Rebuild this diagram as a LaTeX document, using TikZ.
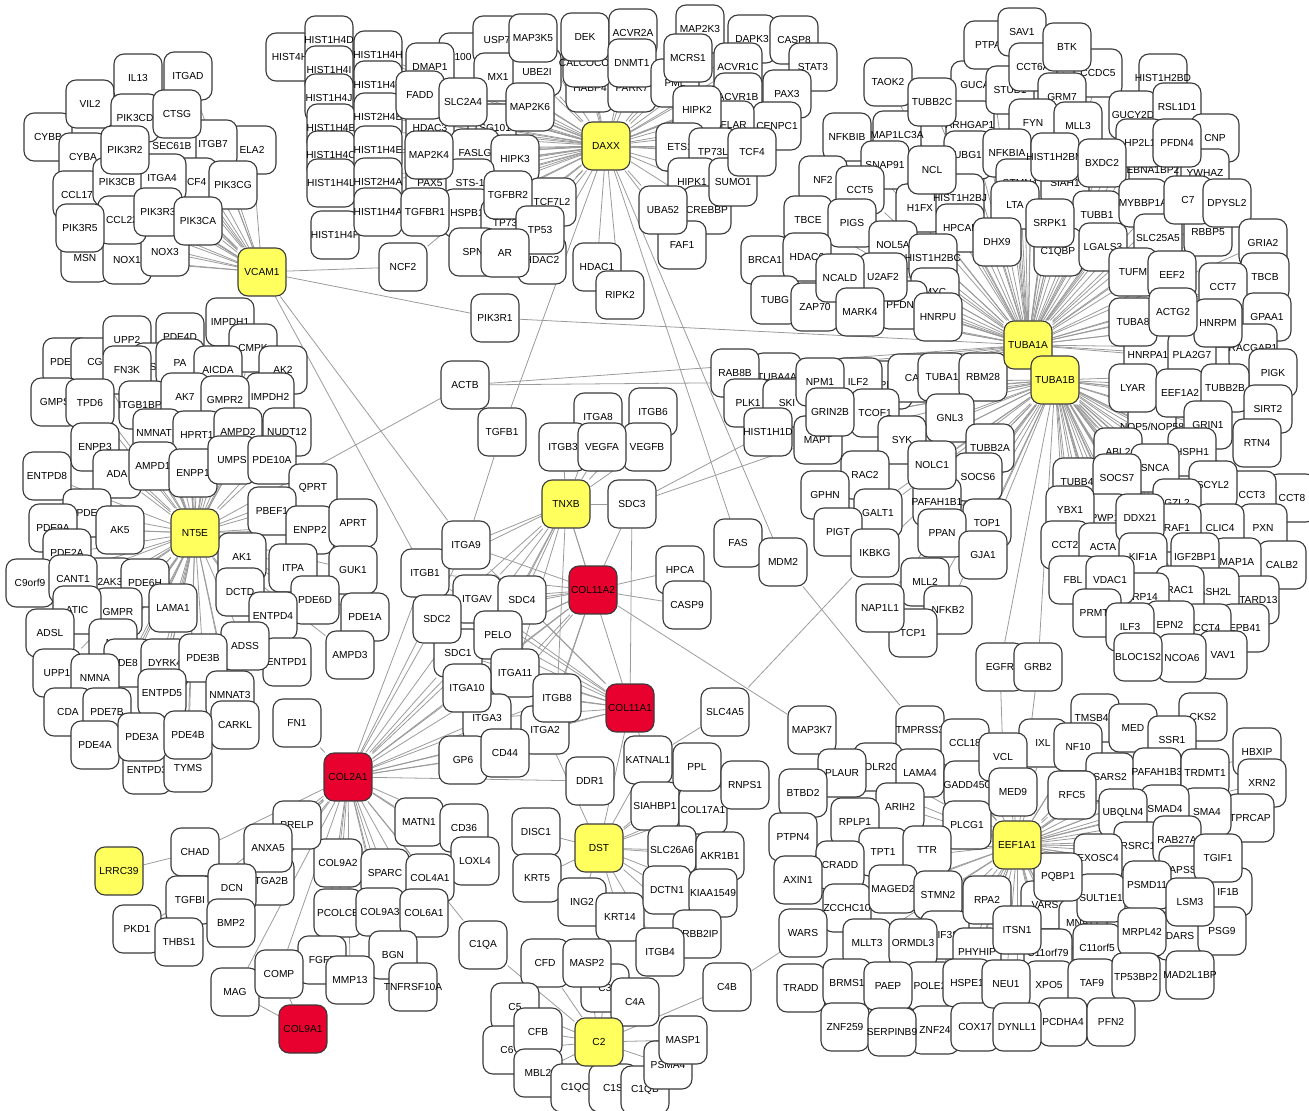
\documentclass[tikz,border=0pt]{standalone}
\usepackage{fontspec}
\setmainfont{Liberation Sans}
\usepackage{tikz}
\definecolor{hubyellow}{HTML}{FFFF5E}
\definecolor{seedred}{HTML}{E8002E}
\definecolor{rim}{HTML}{3A3A3A}
\definecolor{wire}{HTML}{9A9A9A}
\pgfdeclarelayer{wires}
\pgfsetlayers{wires,main}
\newcommand{\genefont}{\fontsize{5.8}{7}\selectfont}

\begin{document}
\begin{tikzpicture}[x=0.02cm, y=-0.02cm]
  \tikzstyle{gene} = [rectangle, draw=rim, fill=white, rounded corners=0.2cm, minimum width=0.96cm, minimum height=0.96cm, inner sep=0pt, line width=0.65pt, font=\genefont]
  \tikzstyle{hub} = [gene, fill=hubyellow]
  \tikzstyle{seed} = [gene, fill=seedred]
  \tikzstyle{link} = [draw=wire, line width=0.45pt]

  \useasboundingbox (0,0) rectangle (1309,1111);

  % VCAM1 group
  \foreach \n/\x/\y in {CYBB/48/137, VIL2/90/104, IL13/138/78, ITGAD/188/76, ELA2/252/150, ITGB7/213/144, SEC61B/172/146, PIK3CD/135/118, CTSG/177/114, CYBA/83/157, CCL17/77/195, NCF4/193/182, ITGA4/162/178, PIK3CB/117/182, PIK3R2/125/150, PIK3CG/233/185, MSN/85/258, NOX1/127/260, NOX3/165/252, CCL22/122/220, PIK3R3/158/212, PIK3CA/198/221, PIK3R5/80/228}
    \node[gene] (\n) at (\x,\y) {\makebox[0pt]{\n}};

  % histones
  \foreach \n/\x/\y in {HIST4H/290/57, HIST1H4D/329/40, HIST1H4I/329/70, HIST1H4J/329/98, HIST1H4B/331/128, HIST1H4C/331/155, HIST1H4L/331/183, HIST1H4F/335/235, HIST1H4H/378/55, HIST1H4K/378/85, HIST2H4B/378/117, HIST1H4E/378/150, HIST2H4A/378/182, HIST1H4A/378/212}
    \node[gene] (\n) at (\x,\y) {\makebox[0pt]{\n}};

  % DAXX group
  \node[gene] (X100) at (463,57) {\makebox[0pt]{100}};
  \foreach \n/\x/\y in {USP7/497/40, DMAP1/430/67, MX1/498/77, UBE2I/537/72, MAP3K5/533/38, HABP4/590/88, PARK7/632/88, CALCOCO2/587/63, DEK/585/37, ACVR2A/633/33, DNMT1/632/63, HDAC3/430/128, FADD/420/95, TSG101/492/128, SLC2A4/463/102, MAP2K6/530/107, PAX5/430/183, FASLG/475/153, HIPK3/515/159}
    \node[gene] (\n) at (\x,\y) {\makebox[0pt]{\n}};
  \node[gene] (STSone) at (470,183) {\makebox[0pt]{STS-1}};
  \foreach \n/\x/\y in {MAP2K4/429/155, TCF7L2/552/202, HSPB1/467/213, TGFBR1/425/212, TP73/505/223, TGFBR2/508/195, SPN/473/252, HDAC2/542/260, TP53/540/230, AR/505/253, NCF2/403/267, HDAC1/597/267, RIPK2/620/295, PIK3R1/495/318}
    \node[gene] (\n) at (\x,\y) {\makebox[0pt]{\n}};
  \foreach \n/\x/\y in {MAP2K3/700/29, DAPK3/752/39, CASP8/794/40, STAT3/813/67, ACVR1C/738/67, PML/675/83, MCRS1/688/58, ACVR1B/738/97, PAX3/787/94, CENPC1/777/126, CFLAR/730/125, HIPK2/697/110, ETS1/680/147, TP73L/713/152, HIPK1/692/182, CREBBP/707/210, SUMO1/733/182, TCF4/752/152, FAF1/682/245, UBA52/663/210}
    \node[gene] (\n) at (\x,\y) {\makebox[0pt]{\n}};

  % tubulin group, upper part
  \foreach \n/\x/\y in {TAOK2/888/82, GUCA/975/85, ARHGAP1/970/125, MAP1LC3A/897/135, TUBB2C/932/102, NFKBIB/847/137, UBG1/968/155, SNAP91/885/165, NF2/823/180, TBCE/808/220, CCT5/860/190, PIGS/852/223, H1FX/920/208, HIST1H2BJ/960/198, HPCAL/960/228, NCL/932/170, BRCA1/765/260, HDAC6/807/257, NOL5A/893/245, HIST1H2BC/933/258, TUBG/775/300, ZAP70/815/307, MYC/935/292, PFDN5/903/305, U2AF2/883/277, NCALD/840/278, MARK4/860/312, HNRPU/938/317}
    \node[gene] (\n) at (\x,\y) {\makebox[0pt]{\n}};
  \foreach \n/\x/\y in {PTPA/988/45, SAV1/1022/32, CCDC5/1098/73, STUB1/1010/90, CCT6A/1033/67, BTK/1067/47, GRM7/1062/97, HIST1H2BD/1163/78, GUCY2D/1133/115, RSL1D1/1177/107, FYN/1033/123, MLL3/1078/126, CNP/1215/138, YWHAZ/1205/173, EBNA1BP2/1153/170, HP2L1/1140/143, PFDN4/1177/143, NFKBIA/1007/153, STMN4/1020/183, SIAH1/1065/183, HIST1H2BM/1055/157, BXDC2/1102/163, LTA/1015/205, TUBB1/1097/215, DHX9/997/242, C1QBP/1058/252, SRPK1/1050/223, LGALS3/1103/247, MYBBP1A/1143/203, SLC25A5/1158/238, RBBP5/1208/232, C7/1188/200, DPYSL2/1227/203, GRIA2/1263/243, TBCB/1265/277, CCT7/1223/287, TUFM/1133/272, EEF2/1172/275, GPAA1/1267/317, RACGAP1/1253/348, HNRPA1/1148/355, PLA2G7/1192/355, TUBA8/1133/322, HNRPM/1218/323, ACTG2/1173/312}
    \node[gene] (\n) at (\x,\y) {\makebox[0pt]{\n}};

  % tubulin group, right part
  \node[gene] (NOPfive) at (1152,427) {\makebox[0pt]{NOP5/NOP58}};
  \foreach \n/\x/\y in {PIGK/1273/373, LYAR/1133/388, EEF1A2/1180/393, TUBB2B/1225/388, SIRT2/1268/409, GRIN1/1208/425, RTN4/1257/443, HSPH1/1192/452, ABL2/1118/452, SNCA/1155/468, CCT8/1292/498, CCT3/1252/495, SCYL2/1213/485, GZL2/1177/503, PXN/1263/528, CLIC4/1220/528, RAF1/1177/528, TUBB4/1077/482, SOCS7/1117/478, PWP1/1105/518, YBX1/1070/510, CCT2/1065/545, ACTA/1103/547, DDX21/1140/518, CALB2/1282/565, MAP1A/1237/562, IGF2BP1/1195/557, KIF1A/1143/557, STARD13/1255/600, ASH2L/1215/592, RAC1/1180/590, RP14/1145/597, FBL/1073/580, VDAC1/1110/580, PRMT5/1097/613, EPB41/1245/628, CCT4/1207/628, EPN2/1170/625, ILF3/1130/627, VAV1/1223/655, NCOA6/1182/658, BLOC1S2/1138/657, EGFR/1000/667, GRB2/1038/667}
    \node[gene] (\n) at (\x,\y) {\makebox[0pt]{\n}};

  % tubulin group, middle part
  \foreach \n/\x/\y in {TUBA4A/777/377, RAB8B/735/373, PLK1/748/403, SKI/787/403, HIST1H1D/768/432, PRI/888/385, CA/912/378, ILF2/858/382, NPM1/820/382, TUBA1/942/377, RBM28/983/377, TCOF1/875/413, MAPT/818/440, GRIN2B/830/412, GNL3/950/418, SYK/902/440, TUBB2A/990/448, SOCS6/978/477, RAC2/865/475, GALT1/878/513, GPHN/825/495, PIGT/838/532, IKBKG/875/553, PAFAH1B1/937/502, NOLC1/932/465, TOP1/987/523, PPAN/942/533, GJA1/983/555, MLL2/925/582, NFKB2/948/610, TCP1/913/633, NAP1L1/880/608}
    \node[gene] (\n) at (\x,\y) {\makebox[0pt]{\n}};

  % NT5E group
  \foreach \n/\x/\y in {PDE1C/67/362, CG/95/362, UPP2/127/340, PDE4D/180/337, IMPDH1/230/322, CMPK/253/348, SG/157/367, PA/180/363, FN3K/127/370, AICDA/218/370, AK2/283/370, GMPS/55/402, TPD6/90/403, ITGB1BP3/143/405, AK7/185/397, IMPDH2/270/397, GMPR2/225/400, ENPP3/95/447, NMNAT1/157/433, HPRT1/197/435, AMPD2/238/432, NUDT12/287/432, ENTPD8/47/476, ADA/117/474, AMPD1/153/466, ENPP1/193/473, UMPS/232/460, PDE10A/272/460, QPRT/313/488, PDE/87/513, PDE9A/53/528, AK5/120/530, PBEF1/272/511, ENPP2/310/530, APRT/353/523, PDE2A/67/553, AK1/242/557, ITPA/293/568, GUK1/353/570, C9orf9/30/583}
    \node[gene] (\n) at (\x,\y) {\makebox[0pt]{\n}};
  \node[gene] (AKthree) at (110,582) {\makebox[0pt]{2AK3}};
  \foreach \n/\x/\y in {CANT1/73/579, PDE6H/145/583, DCTD/240/592, PDE6D/315/600, PDE1A/365/617, GMPR/118/612, ATIC/77/610, LAMA1/173/608, ENTPD4/273/616, ADSL/50/633, NP/113/643, ENTPD1/287/662, ADSS/245/646, AMPD3/350/655, DE8/128/663, DYRK4/165/663, PDE3B/203/658, UPP1/57/673, NMNA/95/678, ENTPD5/162/693, NMNAT3/230/695, CDA/68/712, PDE7B/107/712, CARKL/235/725, FN1/297/723, PDE4A/95/745, ENTPD3/147/770, TYMS/188/768, PDE3A/142/737, PDE4B/188/735}
    \node[gene] (\n) at (\x,\y) {\makebox[0pt]{\n}};

  % collagen and integrin group
  \foreach \n/\x/\y in {ACTB/465/385, TGFB1/502/432, ITGA8/598/417, ITGB6/653/412, ITGB3/563/447, VEGFB/647/447, VEGFA/602/447, SDC3/632/504, ITGB1/425/573, ITGA9/466/545, SDC1/458/653, ITGAV/477/599, SDC4/522/600, SDC2/437/619, PELO/498/635, ITGA11/515/673, ITGA3/487/718, ITGA10/467/688, ITGA2/545/730, ITGB8/557/698, GP6/463/760, CD44/505/753, DDR1/590/781, KATNAL1/648/760, SIAHBP1/655/806, COL17A1/703/810, PPL/697/767, RNPS1/745/785, MATN1/419/822, CD36/464/828, LOXL4/475/861, DISC1/536/832, KRT5/537/878, ING2/582/902, KRT14/620/917, SLC26A6/672/850, AKR1B1/720/856, DCTN1/667/890, KIAA1549/713/893, ERBB2IP/697/934, ITGB4/660/952, COL9A2/338/863, SPARC/385/873, COL4A1/430/878, PCOLCE/338/913, COL9A3/380/912, COL6A1/424/913, C1QA/483/945, FGF7/322/960, BGN/393/955, MMP13/350/980, TNFRSF10A/413/987, PRELP/297/825, CHAD/195/852, ITGA2B/270/881, ANXA5/268/848, TGFBI/190/900, PKD1/137/929, THBS1/179/942, DCN/232/888, BMP2/231/923, MAG/235/992, COMP/279/974, HPCA/680/570, CASP9/687/605, FAS/738/543, MDM2/783/562, SLC4A5/725/712, MAP3K7/812/730, TMPRSS3/920/730}
    \node[gene] (\n) at (\x,\y) {\makebox[0pt]{\n}};

  % complement group
  \foreach \n/\x/\y in {CFD/545/963, C3/605/988, MASP2/587/963, C5/515/1007, C6/507/1050, CFB/538/1032, MBL2/538/1073, C1QC/575/1088, C1S/613/1088, C1QB/645/1090, C4A/635/1002, PSMA4/668/1065, MASP1/683/1040, C4B/727/987}
    \node[gene] (\n) at (\x,\y) {\makebox[0pt]{\n}};

  % EEF1A1 group
  \foreach \n/\x/\y in {CCL18/965/743, POLR2C/878/767, PLAUR/842/773, LAMA4/920/773, GADD45G/968/785, BTBD2/803/793, ARIH2/900/807, RPLP1/855/822, PLCG1/967/825, TPT1/883/852, TTR/927/850, PTPN4/793/837, CRADD/840/865, AXIN1/798/880, ZCCHC10/847/908, MAGED2/893/889, STMN2/938/895, MLLT3/867/943, EIF3S/945/935, ORMDL3/913/943, WARS/803/933, PHYHIP/977/952, TRADD/801/988, BRMS1/847/983, POLE2/930/986, HSPE1/967/983, PAEP/888/986, ZNF259/845/1027, ZNF24/935/1030, SERPINB9/892/1032, COX17/975/1027}
    \node[gene] (\n) at (\x,\y) {\makebox[0pt]{\n}};
  \foreach \n/\x/\y in {TMSB4X/1095/718, MED/1133/728, CKS2/1203/717, IXL/1043/743, NF10/1078/747, SSR1/1172/740, HBXIP/1257/752, VCL/1003/757, SARS2/1110/777, PAFAH1B3/1157/772, TRDMT1/1205/773, XRN2/1262/783, TPRCAP/1250/818, SMA4/1207/812, SMAD4/1165/809, MED9/1013/792, RFC5/1072/795, UBQLN4/1123/813, RSRC1/1138/846, RAB27A/1177/840, APSS/1183/870, IF1B/1228/892, TGIF1/1218/858, EXOSC4/1098/858, RPA2/987/900, VARS/1045/905, MNAT1/1083/923, C11orf5/1097/948, SULT1E1/1101/898, PSMD11/1147/885, DARS/1180/936, PSG9/1222/931, MAD2L1BP/1190/975, LSM3/1190/902, MRPL42/1142/932, C11orf79/1048/953, ITSN1/1017/930, XPO5/1049/985, TAF9/1092/983, TP53BP2/1136/977, NEU1/1006/984, PCDHA4/1063/1022, PFN2/1111/1022, DYNLL1/1017/1027, PQBP1/1058/877}
    \node[gene] (\n) at (\x,\y) {\makebox[0pt]{\n}};

  % hubs
  \foreach \n/\x/\y in {VCAM1/262/272, DAXX/606/146, TUBA1A/1028/345, TUBA1B/1055/380, NT5E/195/533, TNXB/566/504, DST/599/848, C2/599/1042, EEF1A1/1017/845, LRRC39/119/871}
    \node[hub] (\n) at (\x,\y) {\makebox[0pt]{\n}};
  \foreach \n/\x/\y in {COL11A2/593/590, COL11A1/630/708, COL2A1/348/777, COL9A1/303/1029}
    \node[seed] (\n) at (\x,\y) {\makebox[0pt]{\n}};

  \begin{pgfonlayer}{wires}
    \foreach \g in {IL13,ITGAD,VIL2,PIK3CD,CYBB,ITGB7,ELA2,SEC61B,CTSG,CYBA,CCL17,NCF4,ITGA4,PIK3CB,PIK3R2,PIK3CG,PIK3R3,CCL22,MSN,NOX1,NOX3,PIK3CA,PIK3R5,NCF2,PIK3R1,ITGB1,ITGA9}
      \path[link] (VCAM1) -- (\g);
    \foreach \g in {HIST4H,HIST1H4D,HIST1H4I,HIST1H4J,HIST1H4B,HIST1H4C,HIST1H4L,HIST1H4F,HIST1H4H,HIST1H4K,HIST2H4B,HIST1H4E,HIST2H4A,HIST1H4A,USP7,X100,DMAP1,MX1,UBE2I,MAP3K5,HABP4,PARK7,CALCOCO2,DEK,ACVR2A,DNMT1,HDAC3,FADD,TSG101,SLC2A4,MAP2K6,PAX5,FASLG,HIPK3,STSone,MAP2K4,TCF7L2,HSPB1,TGFBR1,TP73,TGFBR2,SPN,HDAC2,TP53,AR,HDAC1,RIPK2,MAP2K3,DAPK3,CASP8,STAT3,ACVR1C,MCRS1,PML,ACVR1B,PAX3,CENPC1,CFLAR,HIPK2,ETS1,TP73L,HIPK1,CREBBP,SUMO1,TCF4,UBA52,FAF1,TGFB1,FAS,MDM2}
      \path[link] (DAXX) -- (\g);
    \foreach \g in {TAOK2,GUCA,TUBB2C,ARHGAP1,NFKBIB,MAP1LC3A,UBG1,SNAP91,NF2,TBCE,CCT5,PIGS,H1FX,HIST1H2BJ,HPCAL,NCL,BRCA1,HDAC6,NOL5A,HIST1H2BC,TUBG,ZAP70,MYC,PFDN5,U2AF2,NCALD,MARK4,HNRPU,PTPA,SAV1,CCDC5,STUB1,CCT6A,BTK,GRM7,HIST1H2BD,GUCY2D,RSL1D1,FYN,MLL3,CNP,YWHAZ,EBNA1BP2,HP2L1,PFDN4,NFKBIA,STMN4,SIAH1,HIST1H2BM,BXDC2,LTA,TUBB1,DHX9,C1QBP,SRPK1,LGALS3,MYBBP1A,SLC25A5,RBBP5,C7,DPYSL2,GRIA2,TBCB,CCT7,TUFM,EEF2,GPAA1,RACGAP1,HNRPA1,PLA2G7,TUBA8,HNRPM,ACTG2,PIK3R1,ACTB,TUBA1B,RAB8B,TUBA4A,NPM1,ILF2,PRI,CA,TUBA1,RBM28}
      \path[link] (TUBA1A) -- (\g);
    \foreach \g in {PIGK,LYAR,EEF1A2,TUBB2B,SIRT2,GRIN1,NOPfive,RTN4,HSPH1,ABL2,SNCA,CCT8,CCT3,SCYL2,GZL2,PXN,CLIC4,RAF1,TUBB4,SOCS7,PWP1,YBX1,CCT2,ACTA,DDX21,CALB2,MAP1A,IGF2BP1,KIF1A,STARD13,ASH2L,RAC1,RP14,FBL,VDAC1,PRMT5,EPB41,CCT4,EPN2,ILF3,VAV1,NCOA6,BLOC1S2,EGFR,GRB2,PLK1,SKI,HIST1H1D,TCOF1,GRIN2B,MAPT,GNL3,SYK,TUBB2A,SOCS6,RAC2,GALT1,GPHN,PIGT,IKBKG,PAFAH1B1,NOLC1,TOP1,PPAN,GJA1,MLL2,NFKB2,TCP1,NAP1L1,ACTB}
      \path[link] (TUBA1B) -- (\g);
    \foreach \g in {PDE1C,CG,UPP2,PDE4D,IMPDH1,CMPK,SG,PA,FN3K,AICDA,AK2,GMPS,TPD6,ITGB1BP3,AK7,IMPDH2,GMPR2,ENPP3,NMNAT1,HPRT1,AMPD2,NUDT12,ENTPD8,ADA,AMPD1,ENPP1,UMPS,PDE10A,QPRT,PDE,PDE9A,AK5,PBEF1,ENPP2,APRT,PDE2A,AK1,ITPA,GUK1,C9orf9,AKthree,CANT1,PDE6H,DCTD,PDE6D,PDE1A,GMPR,ATIC,LAMA1,ENTPD4,ADSL,NP,ENTPD1,ADSS,AMPD3,DE8,DYRK4,PDE3B,UPP1,NMNA,ENTPD5,NMNAT3,CDA,PDE7B,CARKL,PDE4A,ENTPD3,TYMS,PDE3A,PDE4B,ACTB}
      \path[link] (NT5E) -- (\g);
    \foreach \g in {ITGA8,ITGB6,ITGB3,VEGFA,VEGFB,SDC3,ITGA9,ITGB1,ITGAV,SDC4,SDC2,PELO,COL11A2,SDC1,ITGA10,ITGA11,ITGB8}
      \path[link] (TNXB) -- (\g);
    \foreach \g in {ITGA9,ITGB1,ITGAV,SDC4,SDC2,PELO,SDC1,ITGA10,ITGA11,ITGB8,ITGA3,ITGA2,HPCA,CASP9,MAP3K7,SDC3,COL2A1}
      \path[link] (COL11A2) -- (\g);
    \foreach \g in {ITGA9,ITGAV,SDC4,SDC2,PELO,SDC1,ITGA10,ITGA11,ITGB8,ITGA3,ITGA2,SDC3,KATNAL1,DST,ITGB1,TNXB}
      \path[link] (COL11A1) -- (\g);
    \foreach \g in {FN1,SDC2,ITGB1,ITGAV,SDC1,PELO,ITGA10,ITGA11,ITGA3,ITGA2,ITGB8,GP6,CD44,DDR1,MATN1,CD36,LOXL4,COL9A2,SPARC,COL4A1,PCOLCE,COL9A3,COL6A1,BGN,MMP13,FGF7,TNFRSF10A,C1QA,COMP,MAG,PRELP,ANXA5,CHAD,ITGA2B,DCN,BMP2,TGFBI,THBS1,COL11A1,SDC4,ITGA9}
      \path[link] (COL2A1) -- (\g);
    \foreach \g in {DISC1,KRT5,ING2,KRT14,SIAHBP1,KATNAL1,PPL,COL17A1,SLC26A6,AKR1B1,DCTN1,KIAA1549,ERBB2IP,ITGB4,RNPS1,ITGA2}
      \path[link] (DST) -- (\g);
    \foreach \g in {CFD,MASP2,C3,C4A,C5,CFB,C6,MBL2,C1QC,C1S,C1QB,PSMA4,MASP1,C4B,C1QA}
      \path[link] (C2) -- (\g);
    \foreach \g in {CCL18,POLR2C,PLAUR,LAMA4,GADD45G,ARIH2,RPLP1,PLCG1,TPT1,TTR,MAGED2,STMN2,ORMDL3,EIF3S,PHYHIP,POLE2,HSPE1,ZNF24,COX17,TMSB4X,MED,CKS2,IXL,NF10,SSR1,HBXIP,VCL,SARS2,PAFAH1B3,TRDMT1,XRN2,TPRCAP,SMA4,SMAD4,MED9,RFC5,UBQLN4,RSRC1,RAB27A,APSS,IF1B,TGIF1,EXOSC4,RPA2,VARS,MNAT1,C11orf5,SULT1E1,PSMD11,DARS,PSG9,MAD2L1BP,LSM3,MRPL42,PQBP1,C11orf79,ITSN1,XPO5,TAF9,TP53BP2,NEU1,PCDHA4,PFN2,DYNLL1,TMPRSS3,CRADD,MLLT3,ZCCHC10}
      \path[link] (EEF1A1) -- (\g);
    \foreach \a/\b in {SDC3/MAPT, SDC3/HIST1H1D, IKBKG/SLC4A5, SLC4A5/KATNAL1, MDM2/TMPRSS3, EGFR/VCL, GRB2/EEF1A1, LRRC39/CHAD, MAG/COL9A1, COMP/COL9A1, C4B/ZCCHC10, NCF2/HSPB1, TGFB1/ITGA9, PKD1/TGFBI}
      \path[link] (\a) -- (\b);
  \end{pgfonlayer}
\end{tikzpicture}
\end{document}
